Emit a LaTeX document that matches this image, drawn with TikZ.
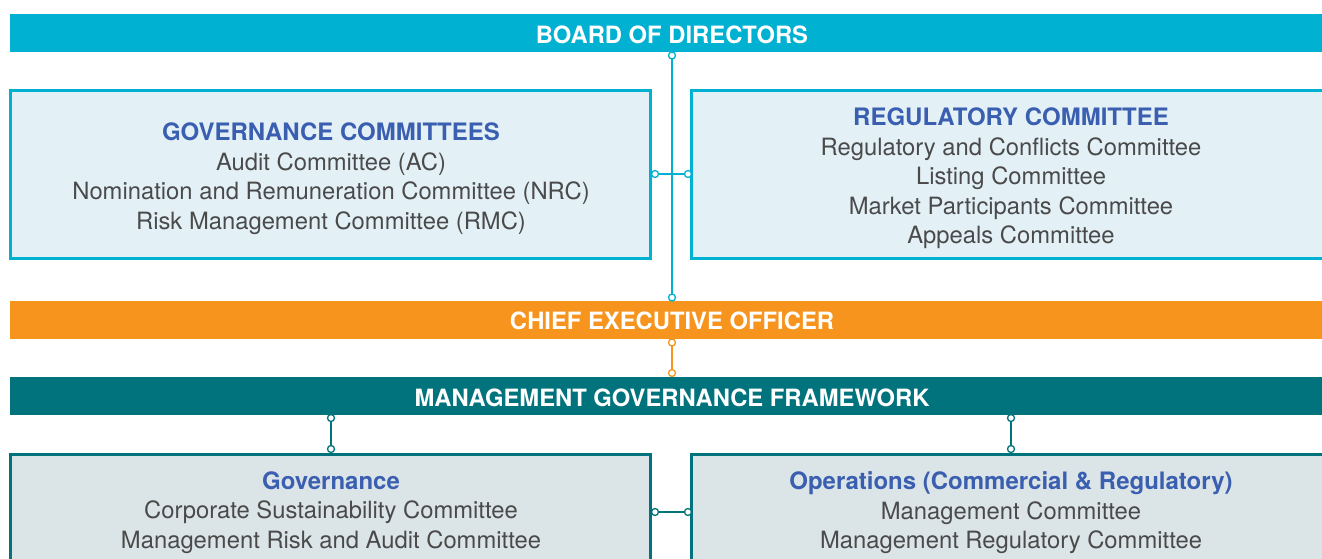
\documentclass[tikz,border=0pt]{standalone}
\usepackage{fontspec}
\setmainfont{TeX Gyre Heros}
\definecolor{cyanbar}{HTML}{00B1D2}
\definecolor{lightcyan}{HTML}{E3F1F7}
\definecolor{orangebar}{HTML}{F7941D}
\definecolor{tealbar}{HTML}{00737D}
\definecolor{lightgray}{HTML}{DBE4E7}
\definecolor{titleblue}{HTML}{3B5FB0}
\definecolor{bodygray}{HTML}{4A4A4A}
\newcommand{\boxtitle}[1]{{\color{titleblue}\bfseries\fontsize{24}{29.5}\selectfont #1}}
\tikzset{
  bar/.style={minimum height=38pt, minimum width=1312pt, inner sep=0pt},
  bartext/.style={text=white, font=\bfseries\fontsize{23.8}{26}\selectfont},
  topbox/.style={draw=cyanbar, line width=3pt, fill=lightcyan},
  botbox/.style={draw=tealbar, line width=3pt, fill=lightgray},
  boxtext/.style={align=center, text=bodygray, font=\fontsize{23.8}{29.5}\selectfont, inner sep=0pt},
  dot/.style={circle, draw, fill=white, line width=1.3pt, minimum size=7pt, inner sep=0pt},
  cline/.style={line width=1.3pt}
}
\begin{document}
\begin{tikzpicture}[x=1pt,y=-1pt]
\useasboundingbox (0,0) rectangle (1322,559);
% bars
\node[bar, fill=cyanbar, anchor=north west] (board) at (10,14) {};
\node[bartext] (boardt) at (672,35) {BOARD OF DIRECTORS};
\node[bar, fill=orangebar, anchor=north west] (ceo) at (10,301) {};
\node[bartext] (ceot) at (672,321) {CHIEF EXECUTIVE OFFICER};
\node[bar, fill=tealbar, anchor=north west] (mgf) at (10,377) {};
\node[bartext] (mgft) at (672,397.5) {MANAGEMENT GOVERNANCE FRAMEWORK};
% top boxes
\draw[topbox] (10.5,90.5) rectangle (650.5,258.5);
\draw[topbox] (691.5,90.5) rectangle (1330,258.5);
\node[boxtext] (gc) at (331,178.5) {\boxtitle{GOVERNANCE COMMITTEES}\\Audit Committee (AC)\\Nomination and Remuneration Committee (NRC)\\Risk Management Committee (RMC)};
\node[boxtext] (rc) at (1011,178.5) {\boxtitle{REGULATORY COMMITTEE}\\Regulatory and Conflicts Committee\\Listing Committee\\Market Participants Committee\\Appeals Committee};
% bottom boxes
\draw[botbox] (10.5,454.5) rectangle (650.5,570);
\draw[botbox] (691.5,454.5) rectangle (1330,570);
\node[boxtext, anchor=north] (gv) at (331,471.5) {\boxtitle{Governance}\\Corporate Sustainability Committee\\Management Risk and Audit Committee};
\node[boxtext, anchor=north] (op) at (1011,471.5) {\boxtitle{Operations (Commercial \& Regulatory)}\\Management Committee\\Management Regulatory Committee};
% connectors
\coordinate (a1) at (672,55.5);
\coordinate (a2) at (672,297.5);
\coordinate (h1) at (655,174);
\coordinate (h2) at (688,174);
\draw[cline, cyanbar] (a1) -- (a2);
\draw[cline, cyanbar] (h1) -- (h2);
\foreach \p in {a1,a2,h1,h2} \node[dot, draw=cyanbar] at (\p) {};
\coordinate (o1) at (672,342.5);
\coordinate (o2) at (672,373);
\draw[cline, orangebar] (o1) -- (o2);
\foreach \p in {o1,o2} \node[dot, draw=orangebar] at (\p) {};
\coordinate (l1) at (331,418);
\coordinate (l2) at (331,449);
\coordinate (r1) at (1011,418);
\coordinate (r2) at (1011,449);
\coordinate (m1) at (655,512);
\coordinate (m2) at (688,512);
\draw[cline, tealbar] (l1) -- (l2);
\draw[cline, tealbar] (r1) -- (r2);
\draw[cline, tealbar] (m1) -- (m2);
\foreach \p in {l1,l2,r1,r2,m1,m2} \node[dot, draw=tealbar] at (\p) {};
\end{tikzpicture}
\end{document}
